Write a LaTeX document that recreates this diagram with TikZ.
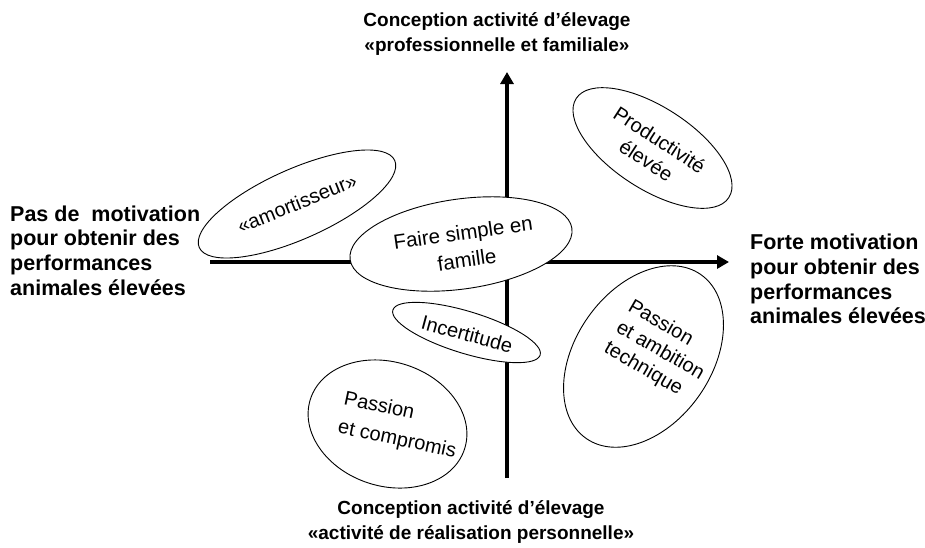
\documentclass[tikz,border=0pt]{standalone}
\usepackage{fontspec}
\setmainfont{Liberation Sans}
\usetikzlibrary{shapes.geometric,arrows.meta}
\begin{document}
\begin{tikzpicture}[x=1pt,y=-1pt,
  ell/.style={draw, fill=white, ellipse, line width=0.9pt, inner sep=0pt},
  inlbl/.style={font=\fontsize{20}{25}\selectfont, align=center, inner sep=0pt},
  inlblL/.style={font=\fontsize{20}{25}\selectfont, align=left, inner sep=0pt},
  sidelbl/.style={font=\bfseries\fontsize{21.5}{24.7}\selectfont, align=left, inner sep=0pt},
  ttl/.style={font=\bfseries\fontsize{19}{25.5}\selectfont, align=center, inner sep=0pt},
  axisline/.style={line width=4pt, -{Triangle[length=12pt,width=13pt]}}]
\useasboundingbox (0,0) rectangle (925,547);

% axes
\coordinate (hL) at (210,262);
\coordinate (hR) at (729,262);
\coordinate (vB) at (507,478);
\coordinate (vT) at (507,72);
\draw[axisline] (hL) -- (hR);
\draw[axisline] (vB) -- (vT);

% ellipses
\node[ell, minimum width=214pt, minimum height=70pt, rotate=24] (e1) at (297,204) {};
\node[ell, minimum width=224pt, minimum height=90pt, rotate=8] (e2) at (461,244) {};
\node[ell, minimum width=182pt, minimum height=82pt, rotate=-33] (e3) at (652.5,148) {};
\node[ell, minimum width=136pt, minimum height=200pt, rotate=-35] (e4) at (643.5,356.5) {};
\node[ell, minimum width=154pt, minimum height=42pt, rotate=-17] (e5) at (466.5,332.5) {};
\node[ell, minimum width=162pt, minimum height=124pt, rotate=-18] (e6) at (387.5,424) {};

% texts inside
\node[inlbl, rotate=22] (t1) at (297,203) {«amortisseur»};
\node[inlbl, rotate=8, font=\fontsize{20.5}{27.5}\selectfont] (t2) at (465,246) {Faire simple en\\famille};
\node[inlbl, rotate=-33, font=\fontsize{20}{24.5}\selectfont] (t3) at (653,150) {Productivité\\élevée};
\node[inlblL, rotate=-30, font=\fontsize{20}{24}\selectfont] (t4) at (660,351) {Passion\\et ambition\\technique};
\node[inlbl, rotate=-15] (t5) at (467,334) {Incertitude};
\node[inlblL, rotate=-12, font=\fontsize{20}{29}\selectfont] (t6) at (400,426) {Passion\\et compromis};

% axis labels
\node[ttl] (top) at (497,34) {Conception activité d’élevage\\«professionnelle et familiale»};
\node[ttl] (bot) at (471,522) {Conception activité d’élevage\\«activité de réalisation personnelle»};
\node[sidelbl, anchor=west] (lft) at (10,250.5) {Pas de\ \ motivation\\pour obtenir des\\performances\\animales élevées};
\node[sidelbl, anchor=west] (rgt) at (750,279) {Forte motivation\\pour obtenir des\\performances\\animales élevées};
\end{tikzpicture}
\end{document}
